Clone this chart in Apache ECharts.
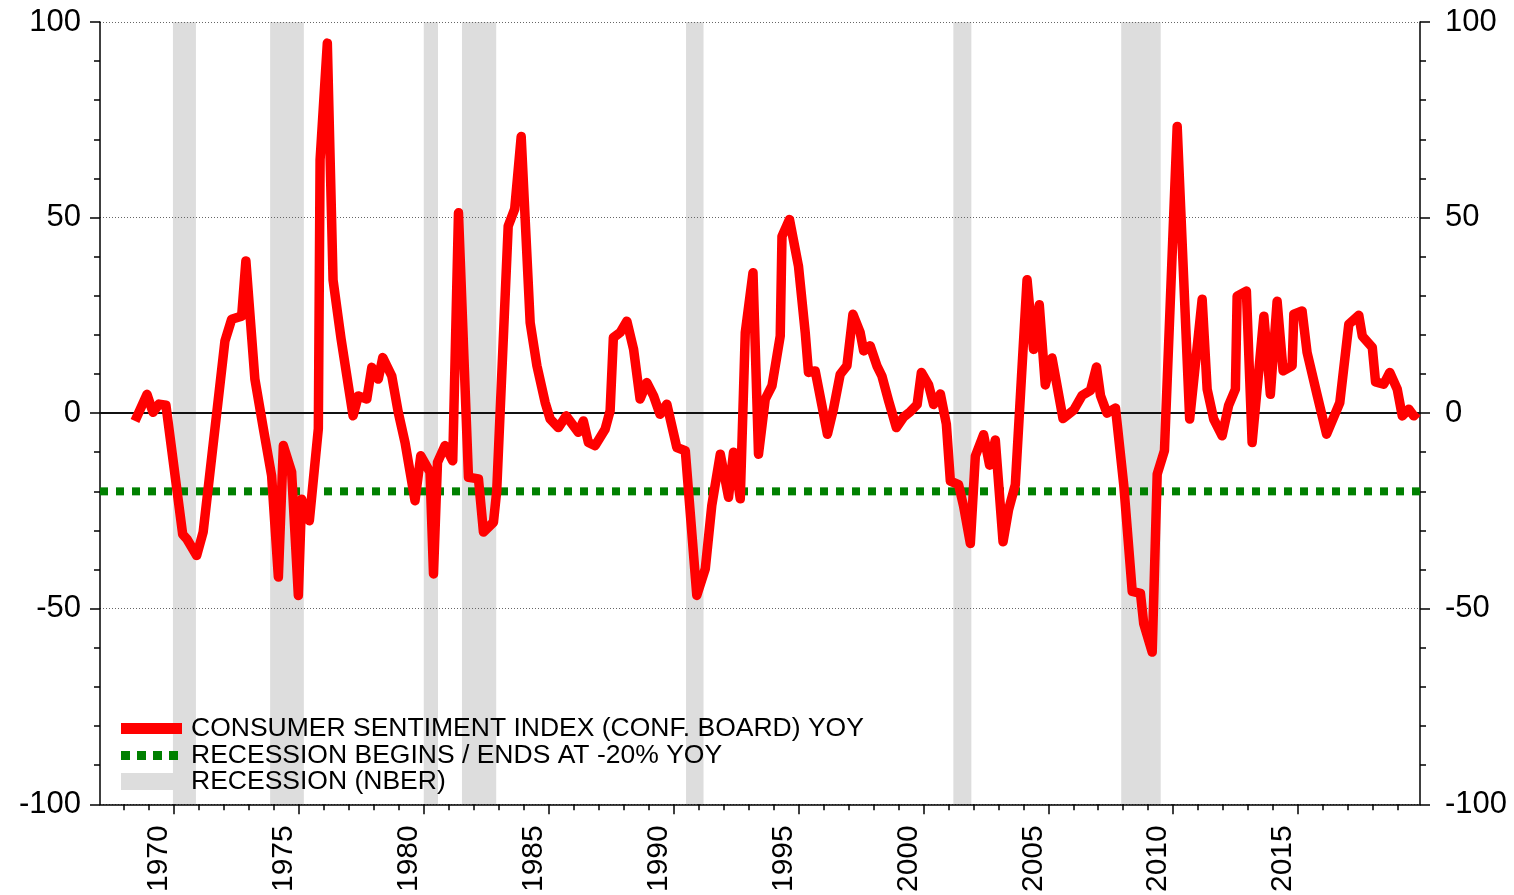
<!DOCTYPE html>
<html>
<head>
<meta charset="utf-8">
<script src="https://cdn.jsdelivr.net/npm/echarts@6/dist/echarts.min.js"></script>
<style>
  html, body { margin: 0; padding: 0; background: #fff; }
  #chart { width: 1514px; height: 895px; }
</style>
</head>
<body>
<div id="chart"></div>
<script>
// consumer sentiment (conf. board) yoy %
const years = [
  1968.44, 1968.92, 1969.16, 1969.40, 1969.68, 1970.35, 1970.53, 1970.91, 1971.17, 1972.04,
  1972.31, 1972.71, 1972.88, 1973.24, 1973.58, 1973.91, 1974.18, 1974.38, 1974.71, 1974.98,
  1975.11, 1975.42, 1975.78, 1975.85, 1976.14, 1976.37, 1976.69, 1977.17, 1977.38, 1977.72,
  1977.92, 1978.18, 1978.36, 1978.72, 1978.98, 1979.25, 1979.65, 1979.88, 1980.25, 1980.39,
  1980.55, 1980.85, 1981.16, 1981.39, 1981.79, 1982.19, 1982.39, 1982.79, 1982.92, 1983.38,
  1983.64, 1983.90, 1984.26, 1984.53, 1984.86, 1985.06, 1985.39, 1985.70, 1986.19, 1986.39,
  1986.59, 1986.86, 1987.26, 1987.46, 1987.59, 1987.86, 1988.13, 1988.40, 1988.66, 1988.93,
  1989.20, 1989.46, 1989.73, 1990.13, 1990.47, 1990.93, 1991.27, 1991.53, 1991.87, 1992.20,
  1992.40, 1992.67, 1992.87, 1993.18, 1993.40, 1993.67, 1993.94, 1994.27, 1994.34, 1994.64,
  1995.00, 1995.27, 1995.40, 1995.67, 1995.94, 1996.16, 1996.40, 1996.67, 1996.94, 1997.18,
  1997.47, 1997.61, 1997.87, 1998.14, 1998.34, 1998.61, 1998.92, 1999.21, 1999.48, 1999.75,
  1999.92, 2000.21, 2000.41, 2000.68, 2000.92, 2001.08, 2001.41, 2001.61, 2001.88, 2002.08,
  2002.41, 2002.65, 2002.88, 2003.19, 2003.41, 2003.68, 2004.15, 2004.41, 2004.64, 2004.88,
  2005.15, 2005.59, 2006.02, 2006.35, 2006.69, 2006.93, 2007.09, 2007.35, 2007.69, 2008.02,
  2008.36, 2008.69, 2008.82, 2009.16, 2009.36, 2009.65, 2010.16, 2010.66, 2011.16, 2011.36,
  2011.62, 2011.96, 2012.22, 2012.49, 2012.56, 2012.93, 2013.16, 2013.63, 2013.89, 2014.16,
  2014.40, 2014.76, 2014.83, 2015.16, 2015.36, 2015.77, 2016.14, 2016.67, 2017.03, 2017.43,
  2017.57, 2017.97, 2018.10, 2018.43, 2018.67, 2018.97, 2019.17, 2019.43, 2019.63, 2019.77
];
const sentiment = [
  -2.0, 4.8, 0.2, 2.3, 2.0, -31.0, -32.3, -36.4, -30.4, 18.4,
  24.0, 24.8, 38.9, 8.7, -4.0, -16.0, -41.9, -8.3, -15.0, -46.6,
  -22.0, -27.5, -4.0, 64.8, 94.6, 34.0, 19.0, -0.7, 4.4, 3.6,
  11.7, 8.7, 14.2, 9.5, 0.2, -7.5, -22.4, -10.9, -15.1, -41.1,
  -12.6, -8.3, -12.2, 51.2, -16.4, -16.8, -30.4, -27.9, -20.0, 47.8,
  52.2, 70.7, 23.1, 12.1, 2.7, -1.5, -3.7, -0.7, -4.9, -2.0,
  -7.5, -8.3, -4.1, 0.6, 19.3, 20.6, 23.5, 16.3, 3.6, 7.8,
  4.4, -0.3, 2.3, -8.8, -9.6, -46.6, -39.8, -23.6, -10.5, -21.5,
  -10.0, -21.9, 20.6, 35.9, -10.5, 3.6, 7.0, 19.7, 45.2, 49.5,
  37.6, 20.6, 10.4, 10.8, 1.9, -5.4, 1.0, 9.9, 12.1, 25.3,
  20.6, 15.9, 17.2, 12.1, 9.5, 3.1, -3.7, -1.0, 0.4, 2.2,
  10.4, 7.2, 2.2, 4.9, -2.8, -17.4, -18.3, -23.8, -33.3, -11.0,
  -5.5, -13.3, -6.9, -32.9, -24.7, -18.3, 34.1, 16.3, 27.7, 7.2,
  14.1, -1.4, 0.8, 4.5, 5.8, 11.8, 4.5, 0.0, 1.3, -18.3,
  -45.6, -46.1, -53.8, -61.1, -15.6, -9.6, 73.3, -1.5, 29.1, 6.1,
  -1.5, -5.8, 2.0, 6.1, 29.9, 31.2, -7.5, 24.8, 4.8, 28.6,
  10.8, 12.1, 25.3, 26.1, 15.5, 4.4, -5.4, 2.7, 22.7, 25.0,
  19.7, 16.8, 8.0, 7.4, 10.4, 6.1, -0.7, 1.0, -0.7, 0.2
];

// NBER recessions
const recessionStart = [1969.96, 1973.85, 1980.00, 1981.53, 1990.50, 2001.20, 2007.92];
const recessionEnd   = [1970.88, 1975.20, 1980.57, 1982.90, 1991.20, 2001.92, 2009.50];

const thresholdLevel = -20;

const labelYears = [1970, 1975, 1980, 1985, 1990, 1995, 2000, 2005, 2010, 2015];
const tickYears = [
  1968, 1969, 1970, 1971, 1972, 1973, 1974, 1975, 1976, 1977, 1978, 1979, 1980,
  1981, 1982, 1983, 1984, 1985, 1986, 1987, 1988, 1989, 1990, 1991, 1992, 1993,
  1994, 1995, 1996, 1997, 1998, 1999, 2000, 2001, 2002, 2003, 2004, 2005, 2006,
  2007, 2008, 2009, 2010, 2011, 2012, 2013, 2014, 2015, 2016, 2017, 2018, 2019
];

const xMin = 1967.04;
const xMax = 2019.88;

const NAME_CSI = 'CONSUMER SENTIMENT INDEX (CONF. BOARD) YOY';
const NAME_THR = 'RECESSION BEGINS / ENDS AT -20% YOY';
const NAME_REC = 'RECESSION (NBER)';

const FONT = "'Liberation Sans', Arial, sans-serif";

const chart = echarts.init(document.getElementById('chart'));

const legendText = (padLeft) => ({ fontSize: 26.5, color: '#000', fontFamily: FONT, padding: [0, 0, 0, padLeft] });
const yAxisBase = {
  type: 'value', min: -100, max: 100, interval: 50,
  axisLine: { show: true, onZero: false, lineStyle: { color: '#000', width: 1.5 } },
  axisTick: { show: true, length: 10, lineStyle: { color: '#000', width: 1.5 } },
  minorTick: { show: true, splitNumber: 5, length: 6, lineStyle: { color: '#000', width: 1.5 } },
  minorSplitLine: { show: false },
};

chart.setOption({
  animation: false,
  backgroundColor: '#fff',
  grid: { left: 100, right: 94, top: 22, bottom: 89 },
  legend: [
    {
      data: [{ name: NAME_CSI, icon: 'rect' }],
      left: 121, top: 715, padding: 0, itemWidth: 61, itemHeight: 11,
      selectedMode: false, textStyle: legendText(4), itemStyle: { borderWidth: 0 },
    },
    {
      data: [{ name: NAME_THR, icon: 'path://M0 0h9v9h-9z M16 0h9v9h-9z M32 0h9v9h-9z M48 0h9v9h-9z' }],
      left: 121, top: 742, padding: 0, itemWidth: 61, itemHeight: 9,
      selectedMode: false, textStyle: legendText(6), itemStyle: { borderWidth: 0 },
    },
    {
      data: [{ name: NAME_REC, icon: 'rect' }],
      left: 121, top: 768, padding: 0, itemWidth: 61, itemHeight: 17,
      selectedMode: false, textStyle: legendText(4), itemStyle: { borderWidth: 0 },
    },
  ],
  xAxis: [
    {
      type: 'value', min: xMin, max: xMax, position: 'bottom',
      axisLine: { show: true, onZero: false, lineStyle: { color: '#000', width: 1.5 } },
      axisTick: { show: true, customValues: labelYears, length: 10, lineStyle: { color: '#000', width: 1.5 } },
      axisLabel: {
        customValues: labelYears, rotate: 90, margin: 21, verticalAlign: 'bottom',
        fontSize: 30, color: '#000', fontFamily: FONT, formatter: v => String(v),
      },
      splitLine: { show: false },
    },
    {
      type: 'value', min: xMin, max: xMax, position: 'bottom',
      axisLine: { show: false, onZero: false },
      axisTick: { show: true, customValues: tickYears, length: 6, lineStyle: { color: '#000', width: 1.5 } },
      axisLabel: { show: false },
      splitLine: { show: false },
    },
  ],
  yAxis: [
    Object.assign({}, yAxisBase, {
      position: 'left',
      axisLabel: { fontSize: 31, color: '#000', fontFamily: FONT, margin: 19 },
      splitLine: { show: true, lineStyle: { color: '#666', type: [1, 2], width: 1 } },
    }),
    Object.assign({}, yAxisBase, {
      position: 'right',
      axisLabel: { fontSize: 31, color: '#000', fontFamily: FONT, margin: 25 },
      splitLine: { show: false },
    }),
  ],
  series: [
    {
      name: NAME_REC,
      type: 'line',
      data: [],
      itemStyle: { color: '#dddddd' },
      lineStyle: { color: '#dddddd' },
      markArea: {
        silent: true,
        z: -1,
        itemStyle: { color: '#dddddd' },
        data: recessionStart.map((s, i) => [{ xAxis: s }, { xAxis: recessionEnd[i] }]),
      },
    },
    {
      name: NAME_THR,
      type: 'line',
      z: 3,
      symbol: 'none',
      data: [[xMin, thresholdLevel], [xMax, thresholdLevel]],
      itemStyle: { color: '#008000' },
      lineStyle: { color: '#008000', width: 8, type: [8, 8], cap: 'butt' },
      markLine: {
        silent: true,
        z: 3,
        symbol: 'none',
        label: { show: false },
        lineStyle: { color: '#111', type: 'solid', width: 2 },
        data: [{ yAxis: 0 }],
      },
    },
    {
      name: NAME_CSI,
      type: 'line',
      z: 4,
      symbol: 'none',
      data: years.map((y, i) => [y, sentiment[i]]),
      itemStyle: { color: '#ff0000' },
      lineStyle: { color: '#ff0000', width: 9.5, join: 'round', cap: 'butt' },
    },
  ],
});
</script>
</body>
</html>
